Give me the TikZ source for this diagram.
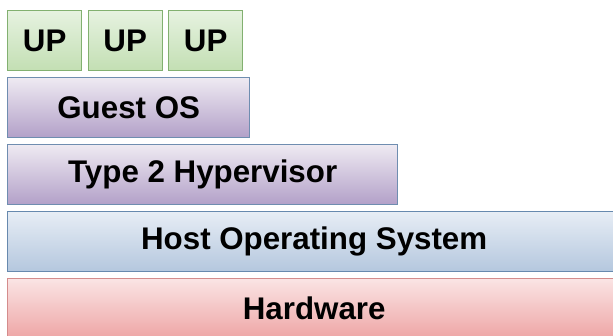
\documentclass[tikz,border=0pt]{standalone}
\usepackage{fontspec}
\setmainfont{Liberation Sans}
\definecolor{gtop}{HTML}{E6F2E0}
\definecolor{gbot}{HTML}{C3DFB3}
\definecolor{gline}{HTML}{82B070}
\definecolor{ptop}{HTML}{EEEAF2}
\definecolor{pbot}{HTML}{B2A0C8}
\definecolor{pline}{HTML}{6F8DB0}
\definecolor{btop}{HTML}{E7EDF5}
\definecolor{bbot}{HTML}{B4C7DE}
\definecolor{bline}{HTML}{6789AE}
\definecolor{rtop}{HTML}{FAE4E4}
\definecolor{rbot}{HTML}{EEA5A5}
\definecolor{rline}{HTML}{D48C8C}
\tikzset{
  layer/.style={rectangle, anchor=north west, minimum height=60pt, inner sep=0pt,
    line width=1.4pt, font=\fontsize{31.3}{35}\selectfont\bfseries, text=black},
  upbox/.style={layer, draw=gline, top color=gtop, bottom color=gbot, minimum width=74pt},
  guestbox/.style={layer, draw=pline, top color=ptop, bottom color=pbot},
  hostbox/.style={layer, draw=bline, top color=btop, bottom color=bbot},
  hwbox/.style={layer, draw=rline, top color=rtop, bottom color=rbot}
}
\begin{document}
\begin{tikzpicture}[x=1pt,y=1pt]
\useasboundingbox[fill=white] (0,0) rectangle (613,336);
\node[upbox] (up1) at (7,326) {UP};
\node[upbox] (up2) at (87.5,326) {UP};
\node[upbox] (up3) at (168,326) {UP};
\node[guestbox, minimum width=242pt] (guest) at (7,259) {Guest OS};
\node[guestbox, minimum width=390pt] (hyp) at (7,192) {Type 2 Hypervisor};
\node[hostbox, minimum width=613pt] (host) at (7,125) {Host Operating System};
\node[hwbox, minimum width=613pt] (hw) at (7,58) {Hardware};
\end{tikzpicture}
\end{document}
